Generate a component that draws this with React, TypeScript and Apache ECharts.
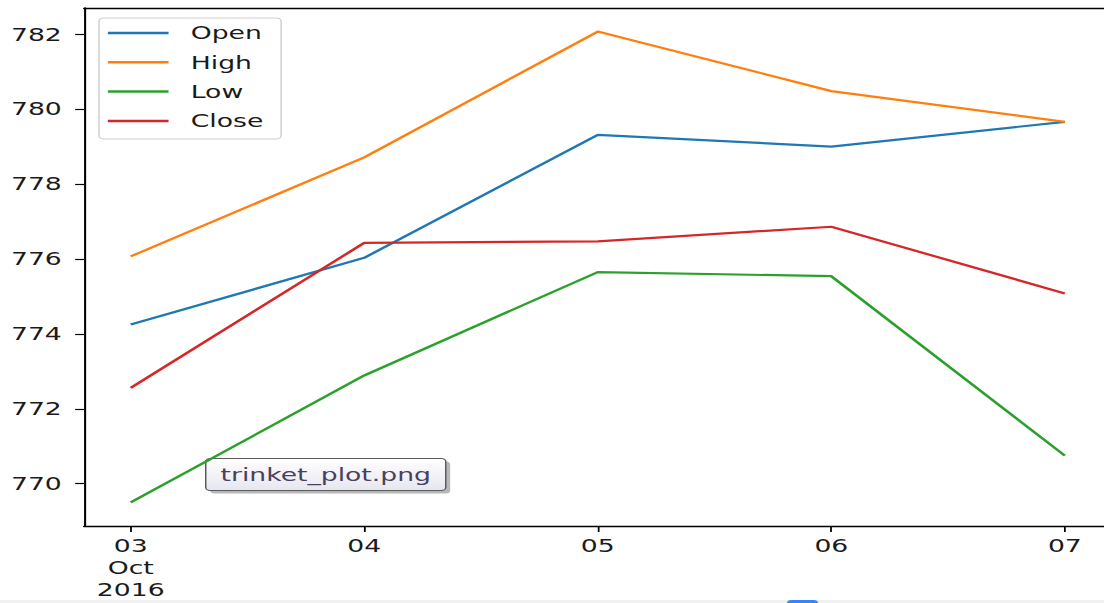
import React, { useEffect, useRef } from "react";
import * as echarts from "echarts";

// Daily prices, 3–7 Oct 2016
const dayIndex = [0, 1, 2, 3, 4];
const xTickLabels = ["03\nOct\n2016", "04", "05", "06", "07"];
const openValues = [774.25, 776.03, 779.31, 779.0, 779.66];
const highValues = [776.07, 778.71, 782.07, 780.48, 779.66];
const lowValues = [769.5, 772.89, 775.65, 775.54, 770.75];
const closeValues = [772.56, 776.43, 776.47, 776.86, 775.08];
const yTicks = [770, 772, 774, 776, 778, 780, 782];
const seriesNames = ["Open", "High", "Low", "Close"];
const seriesColors = ["#1f77b4", "#ff7f0e", "#2ca02c", "#d62728"];

// Horizontal stretch of the whole figure
const SX = 1.48;
const W = 1104 / SX;
const H = 603;
const FONT = "DejaVu Sans";

export default function App() {
  const ref = useRef<HTMLDivElement>(null);

  useEffect(() => {
    if (!ref.current) return;
    const chart = echarts.init(ref.current, undefined, { renderer: "svg" });
    const valueSets = [openValues, highValues, lowValues, closeValues];
    const all = valueSets.flat();
    const lo = Math.min(...all);
    const hi = Math.max(...all);
    const pad = (hi - lo) * 0.05;

    const axisText = { color: "#1a1a1a", fontFamily: FONT, fontSize: 18 };

    chart.setOption({
      animation: false,
      backgroundColor: "#ffffff",
      grid: { left: 84 / SX, right: 0, top: 8, bottom: H - 526 },
      xAxis: [
        {
          type: "value",
          min: -0.2,
          max: 4.168,
          axisLine: { show: true, onZero: false, lineStyle: { color: "#000", width: 1.4 } },
          axisTick: { show: true, length: 6, customValues: dayIndex, lineStyle: { color: "#000", width: 1.2 } },
          axisLabel: {
            ...axisText,
            customValues: dayIndex,
            margin: 9,
            lineHeight: 22,
            align: "center",
            formatter: (v: number) => xTickLabels[Math.round(v)] ?? "",
          },
          splitLine: { show: false },
        },
        {
          type: "value",
          position: "top",
          min: -0.2,
          max: 4.168,
          axisLine: { show: true, onZero: false, lineStyle: { color: "#000", width: 1.4 } },
          axisTick: { show: false },
          axisLabel: { show: false },
          splitLine: { show: false },
        },
      ],
      yAxis: {
        type: "value",
        position: "left",
        min: lo - pad,
        max: hi + pad,
        axisLine: { show: true, onZero: false, lineStyle: { color: "#000", width: 1.4 } },
        axisTick: { show: true, length: 6, customValues: yTicks, lineStyle: { color: "#000", width: 1.2 } },
        axisLabel: { ...axisText, customValues: yTicks, margin: 15 },
        splitLine: { show: false },
      },
      legend: {
        orient: "vertical",
        left: 99 / SX,
        top: 18,
        padding: [5, 12, 8, 6],
        itemGap: 9.3,
        itemWidth: 41,
        itemHeight: 2.5,
        icon: "rect",
        backgroundColor: "rgba(255,255,255,0.85)",
        borderColor: "#cfcfcf",
        borderWidth: 1,
        borderRadius: 3,
        textStyle: { color: "#1a1a1a", fontFamily: FONT, fontSize: 18, lineHeight: 20, padding: [0, 0, 0, 10] },
        data: seriesNames,
      },
      series: seriesNames.map((name, i) => ({
        name,
        type: "line",
        xAxisIndex: 0,
        symbol: "none",
        color: seriesColors[i],
        lineStyle: { width: 2.2, color: seriesColors[i] },
        data: dayIndex.map((d, j) => [d, valueSets[i][j]]),
      })),
      graphic: [
        {
          type: "group",
          left: 205 / SX,
          top: 458,
          children: [
            {
              type: "rect",
              shape: { x: 3, y: 3, width: 240 / SX, height: 32, r: 3 },
              style: { fill: "rgba(0,0,0,0.28)" },
            },
            {
              type: "rect",
              shape: { x: 0, y: 0, width: 240 / SX, height: 32, r: 3 },
              style: {
                fill: new echarts.graphic.LinearGradient(0, 0, 0, 1, [
                  { offset: 0, color: "#ffffff" },
                  { offset: 1, color: "#e6e6ef" },
                ]),
                stroke: "#5a5a5a",
                lineWidth: 1,
              },
            },
            {
              type: "text",
              x: 120 / SX,
              y: 16,
              style: {
                text: "trinket_plot.png",
                fill: "#4b3f5e",
                font: `18px '${FONT}'`,
                align: "center",
                verticalAlign: "middle",
              },
            },
          ],
        },
        {
          type: "rect",
          left: 0,
          top: 600,
          shape: { width: W, height: 3 },
          style: { fill: "#f1f1f1" },
        },
        {
          type: "rect",
          left: 787 / SX,
          top: 600,
          shape: { width: 31 / SX, height: 6, r: [3, 3, 0, 0] },
          style: { fill: "#3b82f6" },
        },
      ],
    });
    return () => chart.dispose();
  }, []);

  return (
    <div
      ref={ref}
      style={{
        position: "fixed",
        left: 0,
        top: 0,
        width: W,
        height: H,
        transform: `scaleX(${SX})`,
        transformOrigin: "0 0",
      }}
    />
  );
}
